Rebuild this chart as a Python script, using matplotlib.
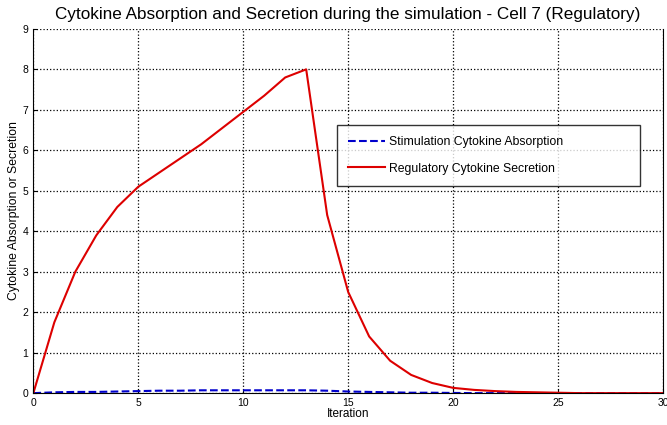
import numpy as np
import matplotlib.pyplot as plt

plt.rcParams['font.family'] = ['Liberation Sans', 'DejaVu Sans']

iterations = list(range(0, 31))
absorption = [0.0, 0.02, 0.03, 0.03, 0.04, 0.05, 0.06, 0.06, 0.07, 0.07, 0.07,
              0.07, 0.07, 0.07, 0.06, 0.04, 0.03, 0.02, 0.01, 0.01, 0.005,
              0.0, 0.0, 0.0, 0.0, 0.0, 0.0, 0.0, 0.0, 0.0, 0.0]
secretion = [0.0, 1.75, 3.0, 3.9, 4.6, 5.1, 5.45, 5.8, 6.15, 6.55, 6.95,
             7.35, 7.8, 8.0, 4.4, 2.5, 1.4, 0.8, 0.45, 0.25, 0.13,
             0.08, 0.05, 0.03, 0.02, 0.01, 0.0, 0.0, 0.0, 0.0, 0.0]

fig = plt.figure(figsize=(6.67, 4.25), dpi=100)
ax = fig.add_axes([0.05, 0.075, 0.944, 0.857])

ax.plot(iterations, absorption, c='#0000cc', linestyle='dashed', lw=1.5,
        label='Stimulation Cytokine Absorption')
ax.plot(iterations, secretion, c='#dd0000', linestyle='solid', lw=1.5,
        label='Regulatory Cytokine Secretion')

ax.set_xlim(0, 30)
ax.set_ylim(0, 9)
ax.set_xticks(range(0, 31, 5))
ax.set_yticks(range(0, 10))
ax.grid(True, linestyle=':', color='black', lw=0.9)
ax.tick_params(axis='both', labelsize=7.5, direction='in', length=3)
ax.spines['top'].set_visible(False)

ax.set_title('Cytokine Absorption and Secretion during the simulation - Cell 7 (Regulatory)',
             fontsize=12.3, pad=7)
ax.set_xlabel('Iteration', fontsize=8.5, labelpad=0)
ax.set_ylabel('Cytokine Absorption or Secretion', fontsize=8.8, labelpad=2)

leg = ax.legend(loc='upper left', bbox_to_anchor=(0.483, 0.577, 0.48, 0.159),
                mode='expand', fontsize=8.8, frameon=True, fancybox=False,
                edgecolor='black', borderpad=0.9, labelspacing=1.2,
                handlelength=3.0, handletextpad=0.3, borderaxespad=0)
leg.get_frame().set_linewidth(1.0)

plt.savefig('out.png', dpi=100)
